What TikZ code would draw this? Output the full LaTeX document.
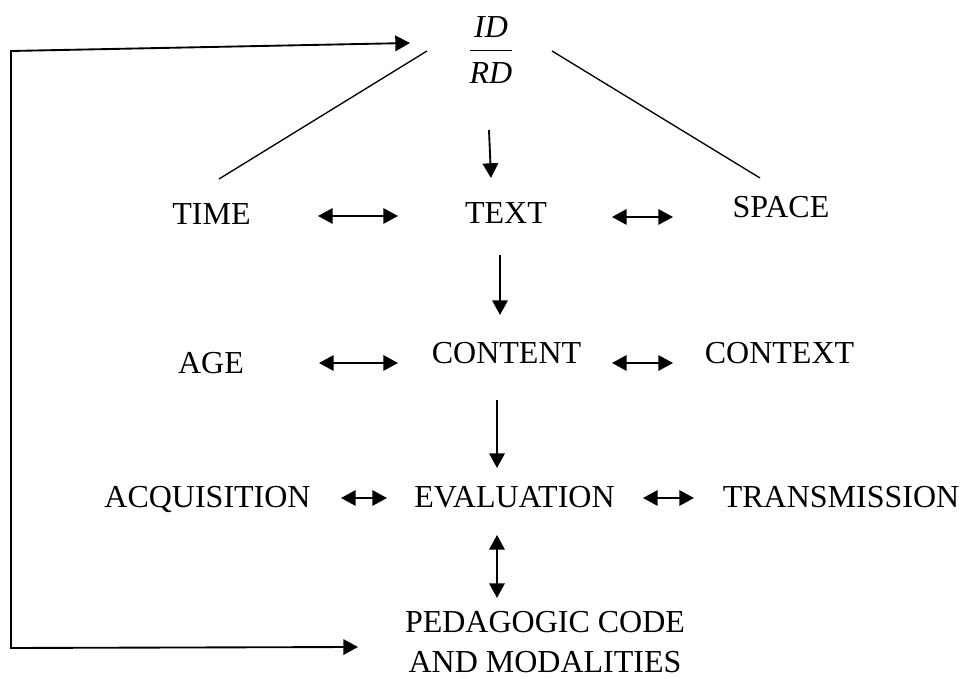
\documentclass[tikz,border=0pt]{standalone}
\usepackage{fontspec}
\setmainfont{Liberation Serif}
\usetikzlibrary{arrows.meta}
\begin{document}
\begin{tikzpicture}[x=0.375pt,y=-0.375pt,
    lbl/.style={inner sep=0pt,text height=8pt,text depth=0pt,font=\fontsize{12}{15}\selectfont},
    arr/.style={line width=0.7pt,-{Triangle[length=5.5pt,width=5.8pt]}},
    dbl/.style={line width=0.7pt,{Triangle[length=5.5pt,width=5.8pt]}-{Triangle[length=5.5pt,width=5.8pt]}},
    slant/.style={line width=0.5pt}]
    \useasboundingbox (0,0) rectangle (961,679);
    % fraction at the top
    \node[inner sep=0pt,font=\fontsize{12}{15}\selectfont] (idrd) at (491,50)
      {$\displaystyle\frac{\textit{ID}}{\textit{RD}\rule{0pt}{11pt}}$};
    % rows
    \node[lbl] (time) at (211.5,213.5) {TIME};
    \node[lbl] (text) at (506,213) {TEXT};
    \node[lbl] (space) at (781,207) {SPACE};
    \node[lbl] (age) at (211,362.5) {AGE};
    \node[lbl] (content) at (506.5,353) {CONTENT};
    \node[lbl] (context) at (779.5,353) {CONTEXT};
    \node[lbl] (acq) at (207.5,496.5) {ACQUISITION};
    \node[lbl] (eval) at (514.5,496.5) {EVALUATION};
    \node[lbl] (trans) at (841,496.5) {TRANSMISSION};
    \node[inner sep=0pt,align=center,font=\fontsize{12}{15}\selectfont] (ped) at (545,642)
      {PEDAGOGIC CODE\\AND MODALITIES};
    % corners of the loop
    \coordinate (loop top) at (11,51);
    \coordinate (loop bottom) at (11,648);

    \draw[slant] ([shift={(-64,1)}]idrd.center) -- ([shift={(7.5,-34.5)}]time.center);
    \draw[slant] ([shift={(61,1)}]idrd.center) -- ([shift={(-21,-29)}]space.center);
    \draw[arr] ([shift={(-2,80)}]idrd.center) -- ([shift={(-15,-35)}]text.center);

    \draw[dbl] ([shift={(106.5,2.5)}]time.center) -- ([shift={(-108,3)}]text.center);
    \draw[dbl] ([shift={(106,4)}]text.center) -- ([shift={(-108,10)}]space.center);
    \draw[arr] ([shift={(-6,42)}]text.center) -- ([shift={(-6.5,-38)}]content.center);

    \draw[dbl] ([shift={(108,0.5)}]age.center) -- ([shift={(-108.5,10)}]content.center);
    \draw[dbl] ([shift={(105.5,10)}]content.center) -- ([shift={(-106.5,10)}]context.center);
    \draw[arr] ([shift={(-9.5,47)}]content.center) -- ([shift={(-17.5,-28.5)}]eval.center);

    \draw[dbl] ([shift={(133.5,1.5)}]acq.center) -- ([shift={(-127.5,1.5)}]eval.center);
    \draw[dbl] ([shift={(128.5,1.5)}]eval.center) -- ([shift={(-147,1.5)}]trans.center);
    \draw[dbl] ([shift={(-17.5,38.5)}]eval.center) -- ([shift={(-48,-44)}]ped.center);

    % feedback loop
    \draw[dbl] ([shift={(-187,5)}]ped.center) -- (loop bottom) -- (loop top)
      -- ([shift={(-81,-7)}]idrd.center);
\end{tikzpicture}
\end{document}
